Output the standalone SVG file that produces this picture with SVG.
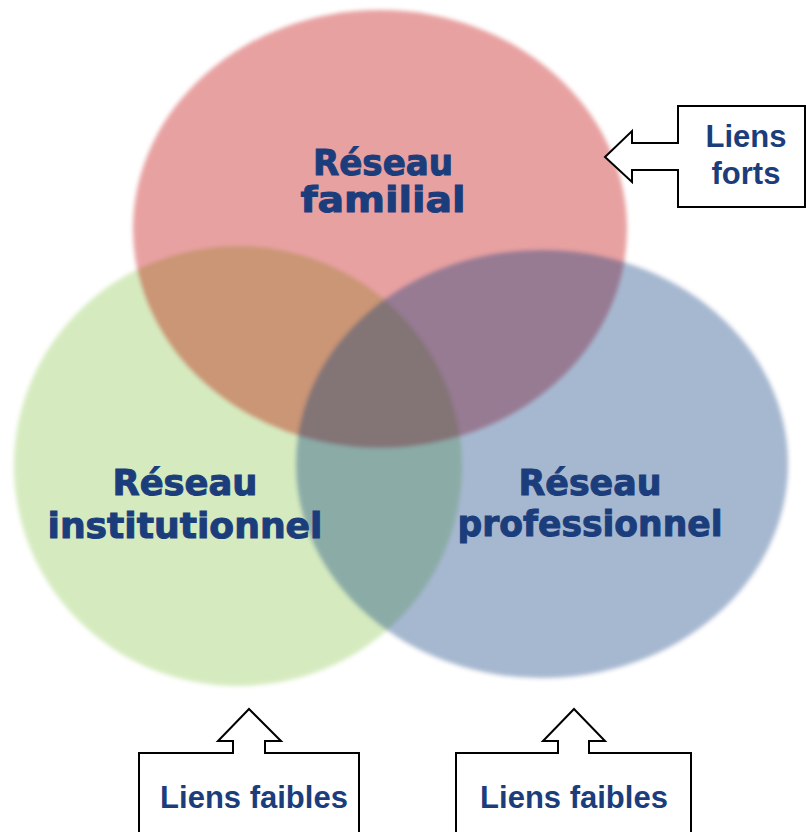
<svg xmlns="http://www.w3.org/2000/svg" width="806" height="832" viewBox="0 0 806 832">
  <defs>
    <filter id="soft" x="-10%" y="-10%" width="120%" height="120%">
      <feGaussianBlur stdDeviation="2"/>
    </filter>
    <clipPath id="clipGreen">
      <ellipse cx="238" cy="466" rx="224" ry="220"/>
    </clipPath>
    <style>
      .label { font-family: "DejaVu Sans", "Liberation Sans", sans-serif; font-weight: bold; font-size: 35px; fill: #1B3D7C; stroke: #1B3D7C; stroke-width: 1; text-anchor: middle; }
      .callout { fill: #FFFFFF; stroke: #000000; stroke-width: 2; stroke-linejoin: miter; }
      .ctext { font-family: "Liberation Sans", Arial, sans-serif; font-weight: bold; font-size: 31px; fill: #1B3D7C; text-anchor: middle; }
    </style>
  </defs>
  <rect x="0" y="0" width="806" height="832" fill="#FFFFFF"/>
  <g id="circles">
    <g filter="url(#soft)">
      <g id="institutionnel">
        <ellipse cx="238" cy="466" rx="224" ry="220" fill="#D5EBBF"/>
      </g>
      <g id="familial">
        <ellipse cx="380" cy="229" rx="247" ry="219" fill="#E8A1A1"/>
        <ellipse cx="380" cy="229" rx="247" ry="219" fill="#CA9674" clip-path="url(#clipGreen)"/>
      </g>
    </g>
    <g id="professionnel">
      <ellipse cx="542" cy="464" rx="246" ry="214" fill="#093178" fill-opacity="0.35" filter="url(#soft)"/>
    </g>
  </g>
  <g id="labels">
    <text class="label" x="383" y="175" textLength="140" lengthAdjust="spacingAndGlyphs">Réseau</text>
    <text class="label" x="383" y="212" textLength="165" lengthAdjust="spacingAndGlyphs">familial</text>
    <text class="label" x="185" y="495" textLength="145" lengthAdjust="spacingAndGlyphs">Réseau</text>
    <text class="label" x="185" y="538" textLength="275" lengthAdjust="spacingAndGlyphs">institutionnel</text>
    <text class="label" x="590" y="495" textLength="143" lengthAdjust="spacingAndGlyphs">Réseau</text>
    <text class="label" x="590" y="536" textLength="265" lengthAdjust="spacingAndGlyphs">professionnel</text>
  </g>
  <g id="connectors">
    <g id="callout-forts">
      <path class="callout" d="M 678 106 L 805 106 L 805 207 L 678 207 L 678 170 L 632 170 L 632 182 L 605 157 L 632 131 L 632 143 L 678 143 Z"/>
      <text class="ctext" x="746" y="147">Liens</text>
      <text class="ctext" x="746" y="184">forts</text>
    </g>
    <g id="callout-faibles-1">
      <path class="callout" d="M 139 833 L 139 753 L 233 753 L 233 741 L 218 741 L 249 709 L 281 741 L 265 741 L 265 753 L 359 753 L 359 833"/>
      <text class="ctext" x="254" y="808">Liens faibles</text>
    </g>
    <g id="callout-faibles-2">
      <path class="callout" d="M 456 833 L 456 753 L 558 753 L 558 741 L 543 741 L 574 709 L 605 741 L 589 741 L 589 753 L 691 753 L 691 833"/>
      <text class="ctext" x="574" y="808">Liens faibles</text>
    </g>
  </g>
</svg>
